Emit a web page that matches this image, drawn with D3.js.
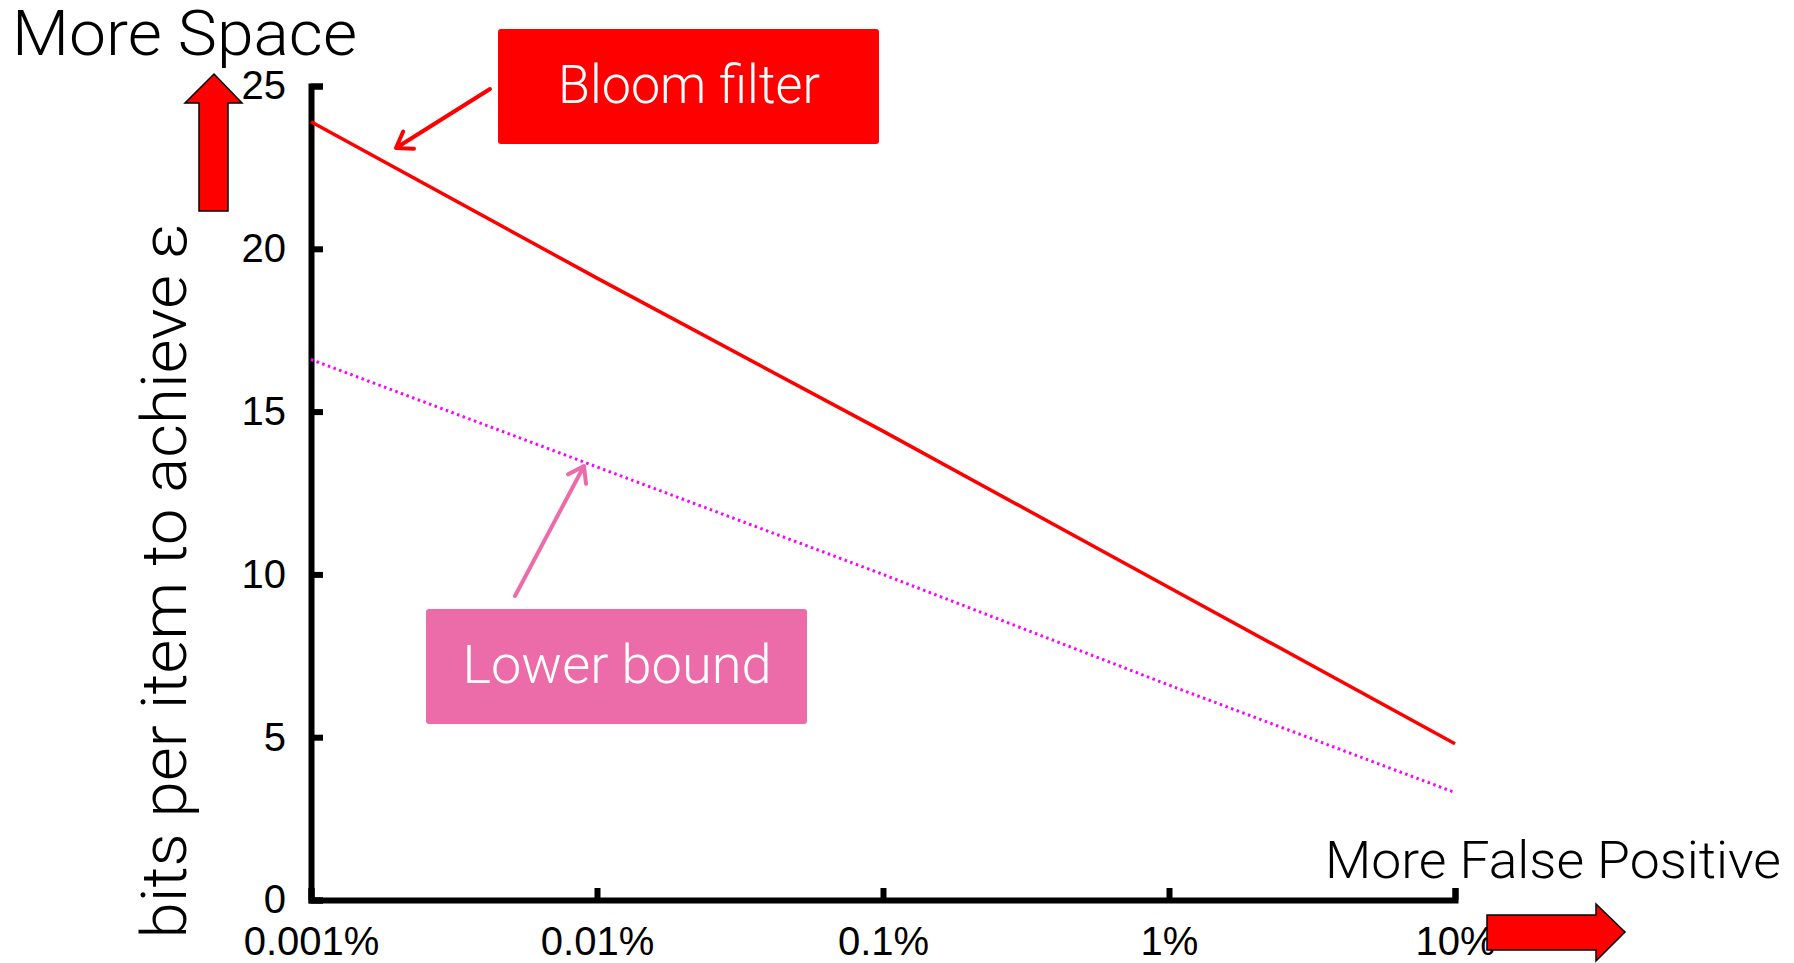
<!DOCTYPE html>
<html>
<head>
<meta charset="utf-8">
<script src="https://cdn.jsdelivr.net/npm/d3@7"></script>
<style>
  body { margin: 0; background: #fff; }
  svg { display: block; }
</style>
</head>
<body>
<svg width="1794" height="963"></svg>
<script>
// false positive rate (x) and bits per item (y)
var fpRates = [0.00001, 0.0001, 0.001, 0.01, 0.1];
var fpLabels = ["0.001%", "0.01%", "0.1%", "1%", "10%"];
var bloomBits = [23.9, 19.1, 14.4, 9.6, 4.8];
var lowerBits = [16.6, 13.3, 10.0, 6.6, 3.3];
var yTicks = [0, 5, 10, 15, 20, 25];

var svg = d3.select("svg");
var lightFont = "'Helvetica Neue', Roboto, 'Open Sans', sans-serif";
var tickFont = "Helvetica, 'Liberation Sans', Arial, sans-serif";

var x = d3.scaleLog().domain([0.00001, 0.1]).range([311, 1455]);
var y = d3.scaleLinear().domain([0, 25]).range([900, 86]);

// light caption text, sized by cap height and stretched to the width seen
function caption(tx, ty, size, w, anchor, color, label) {
    return svg.append("text")
        .attr("x", tx).attr("y", ty)
        .attr("text-anchor", anchor)
        .attr("font-family", lightFont)
        .attr("font-weight", 300)
        .attr("font-size", size)
        .attr("fill", color)
        .attr("textLength", w)
        .attr("lengthAdjust", "spacingAndGlyphs")
        .text(label);
}

// y axis
var gy = svg.append("g")
    .attr("transform", "translate(311,0)")
    .call(d3.axisLeft(y)
        .tickValues(yTicks)
        .tickSizeInner(-12)
        .tickSizeOuter(-12)
        .tickPadding(25));

// x axis
var gx = svg.append("g")
    .attr("transform", "translate(0,900)")
    .call(d3.axisBottom(x)
        .tickValues(fpRates)
        .tickFormat(function (d, i) { return fpLabels[i]; })
        .tickSizeInner(-12)
        .tickSizeOuter(-12)
        .tickPadding(27));

[gy, gx].forEach(function (g) {
    g.attr("font-family", tickFont).attr("font-size", 40);
    g.select(".domain").attr("stroke", "#000").attr("stroke-width", 6);
    g.selectAll(".tick line").attr("stroke", "#000").attr("stroke-width", 6);
    g.selectAll(".tick text").attr("fill", "#000");
});

// series
var line = d3.line()
    .x(function (d, i) { return x(fpRates[i]); })
    .y(function (d) { return y(d); });

svg.append("path")
    .datum(lowerBits)
    .attr("d", line)
    .attr("fill", "none")
    .attr("stroke", "#ff00ff")
    .attr("stroke-width", 3)
    .attr("stroke-dasharray", "2.5,3.5");

svg.append("path")
    .datum(bloomBits)
    .attr("d", line)
    .attr("fill", "none")
    .attr("stroke", "#ff0000")
    .attr("stroke-width", 3.5);

// y title
caption(0, 0, 63, 715, "middle", "#000", "bits per item to achieve ε")
    .attr("transform", "translate(186,581) rotate(-90)");

// corner captions
caption(12, 55, 63, 345, "start", "#000", "More Space");
caption(1325, 878, 52, 456, "start", "#000", "More False Positive");

// big block arrows
svg.append("polygon")
    .attr("points", "214,74 242,103 228,103 228,211 199,211 199,103 185,103")
    .attr("fill", "#ff0000")
    .attr("stroke", "#000")
    .attr("stroke-width", 1.5);

svg.append("polygon")
    .attr("points", "1487,915 1596,915 1596,904 1625,932 1596,961 1596,950 1487,950")
    .attr("fill", "#ff0000")
    .attr("stroke", "#000")
    .attr("stroke-width", 1.5);

// callout boxes with their pointer arrows
function callout(bx, by, bw, bh, color, label, tx, ty, tw, from, to) {
    svg.append("rect")
        .attr("x", bx).attr("y", by)
        .attr("width", bw).attr("height", bh)
        .attr("rx", 3)
        .attr("fill", color);
    caption(tx, ty, 53, tw, "middle", "#fff", label);

    var ang = Math.atan2(to[1] - from[1], to[0] - from[0]);
    var len = 18, spread = 0.6;
    var a1 = [to[0] - len * Math.cos(ang - spread), to[1] - len * Math.sin(ang - spread)];
    var a2 = [to[0] - len * Math.cos(ang + spread), to[1] - len * Math.sin(ang + spread)];
    svg.append("path")
        .attr("d", "M" + from + "L" + to + "M" + a1 + "L" + to + "L" + a2)
        .attr("fill", "none")
        .attr("stroke", color)
        .attr("stroke-width", 4)
        .attr("stroke-linecap", "round")
        .attr("stroke-linejoin", "round");
}

callout(498, 29, 381, 115, "#ff0000", "Bloom filter", 689, 103, 262, [490, 89], [396, 148]);
callout(426, 609, 381, 115, "#ec6caa", "Lower bound", 617, 683, 309, [515, 596], [584, 466]);
</script>
</body>
</html>
